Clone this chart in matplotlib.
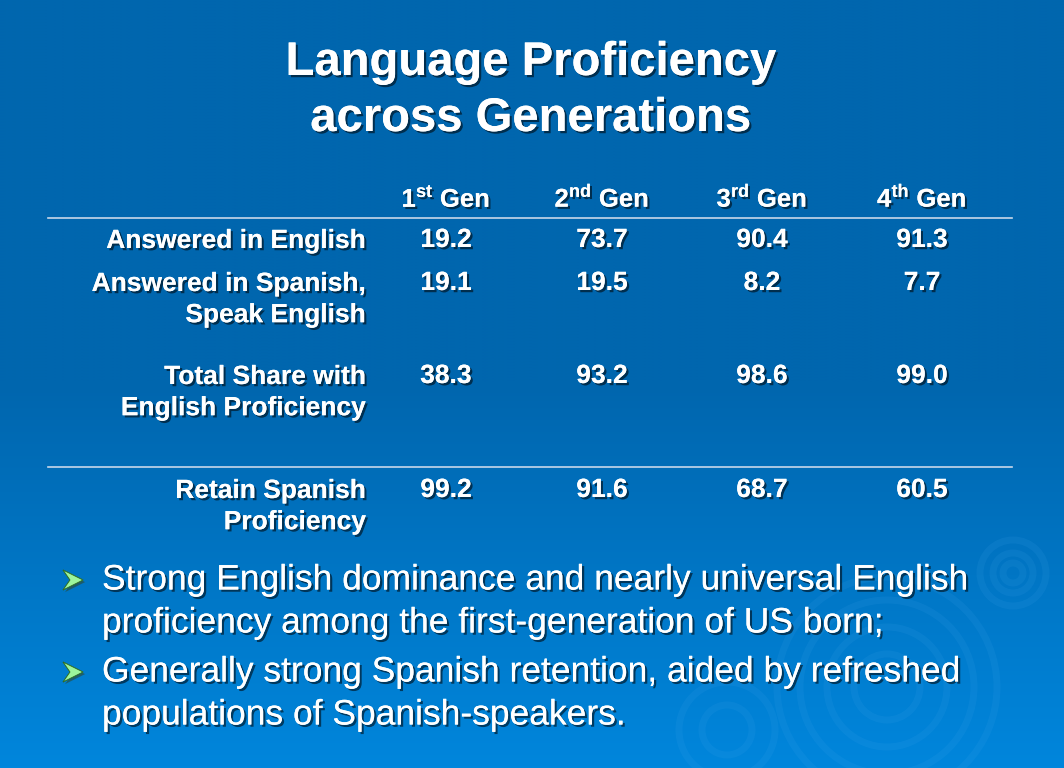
import numpy as np
import matplotlib
matplotlib.use("Agg")
import matplotlib.pyplot as plt
import matplotlib.patheffects as pe
from matplotlib.patches import Circle, Polygon

# Données du tableau
generations = ["1", "2", "3", "4"]
suffixes = ["st", "nd", "rd", "th"]
row_labels = [
    "Answered in English",
    "Answered in Spanish,\nSpeak English",
    "Total Share with\nEnglish Proficiency",
    "Retain Spanish\nProficiency",
]
values = [
    [19.2, 73.7, 90.4, 91.3],
    [19.1, 19.5, 8.2, 7.7],
    [38.3, 93.2, 98.6, 99.0],
    [99.2, 91.6, 68.7, 60.5],
]
title_lines = ["Language Proficiency", "across Generations"]
bullets = [
    ["Strong English dominance and nearly universal English",
     "proficiency among the first-generation of US born;"],
    ["Generally strong Spanish retention, aided by refreshed",
     "populations of Spanish-speakers."],
]

plt.rcParams['font.family'] = ['Liberation Sans', 'DejaVu Sans']
plt.rcParams['mathtext.fontset'] = 'custom'
plt.rcParams['mathtext.rm'] = 'Liberation Sans'
plt.rcParams['mathtext.bf'] = 'Liberation Sans:bold'

W, H = 1064, 768
fig = plt.figure(figsize=(W / 100, H / 100), dpi=100)
ax = fig.add_axes([0, 0, 1, 1])
ax.set_xlim(0, W)
ax.set_ylim(H, 0)
ax.axis('off')

# Fond dégradé bleu
t = np.linspace(0, 1, 256)
ramp = np.clip((t - 0.5) / 0.5, 0, 1)
top = np.array([0x00, 0x66, 0xae]) / 255
bot = np.array([0x00, 0x86, 0xdc]) / 255
grad = top[None, :] * (1 - ramp[:, None]) + bot[None, :] * ramp[:, None]
grad = np.repeat(grad[:, None, :], 2, axis=1)
ax.imshow(grad, extent=[0, W, H, 0], aspect='auto', zorder=0)

# Ondulations
for cx, cy, radii in [(1013, 573, [10, 20, 33]),
                      (887, 687, [33, 60, 87, 110]),
                      (727, 730, [25, 48])]:
    for r in radii:
        ax.add_patch(Circle((cx, cy), r, fill=False, ec='#4aa8ec', lw=5,
                            alpha=0.12, zorder=1))

shadow = [pe.withSimplePatchShadow(offset=(1.6, -1.6), shadow_rgbFace='black',
                                   alpha=0.55), pe.Normal()]

# Titre
for i, line in enumerate(title_lines):
    ax.text(531, 63 + i * 56, line, ha='center', va='center', color='white',
            fontsize=34, fontweight='bold', path_effects=shadow, zorder=5)

# Tableau
col_x = [446, 602, 762, 922]
for x, g, s in zip(col_x, generations, suffixes):
    ax.text(x, 198, g + r"$^{\mathbf{" + s + "}}$ Gen", ha='center',
            va='center', color='white', fontsize=18.5, fontweight='bold',
            path_effects=shadow, zorder=5)

ax.plot([48, 1012], [218, 218], color='#c8d8ea', lw=1.2, zorder=3)
ax.plot([48, 1012], [467, 467], color='#c8d8ea', lw=1.2, zorder=3)

row_y = [240, 283, 376, 490]
for y, lab, vals in zip(row_y, row_labels, values):
    ax.text(366, y - 11, lab, ha='right', va='top', color='white',
            fontsize=19, fontweight='bold', linespacing=1.38,
            path_effects=shadow, zorder=5)
    for x, v in zip(col_x, vals):
        ax.text(x, y, f"{v:.1f}", ha='center', va='center', color='white',
                fontsize=19, fontweight='bold', path_effects=shadow, zorder=5)

# Puces
bullet_y = [580, 672]
for y, lines in zip(bullet_y, bullets):
    ax.add_patch(Polygon([[63, y - 10], [83, y], [63, y + 10], [70, y]],
                         closed=True, fc='#9cf59c', ec='#2a6a2a', lw=0.6,
                         zorder=5,
                         path_effects=[pe.withSimplePatchShadow(
                             offset=(1.5, -1.5), alpha=0.6), pe.Normal()]))
    for j, line in enumerate(lines):
        ax.text(102, y + j * 43, line, ha='left', va='center', color='white',
                fontsize=25.5, path_effects=shadow, zorder=5)

fig.savefig("out.png", dpi=100)
